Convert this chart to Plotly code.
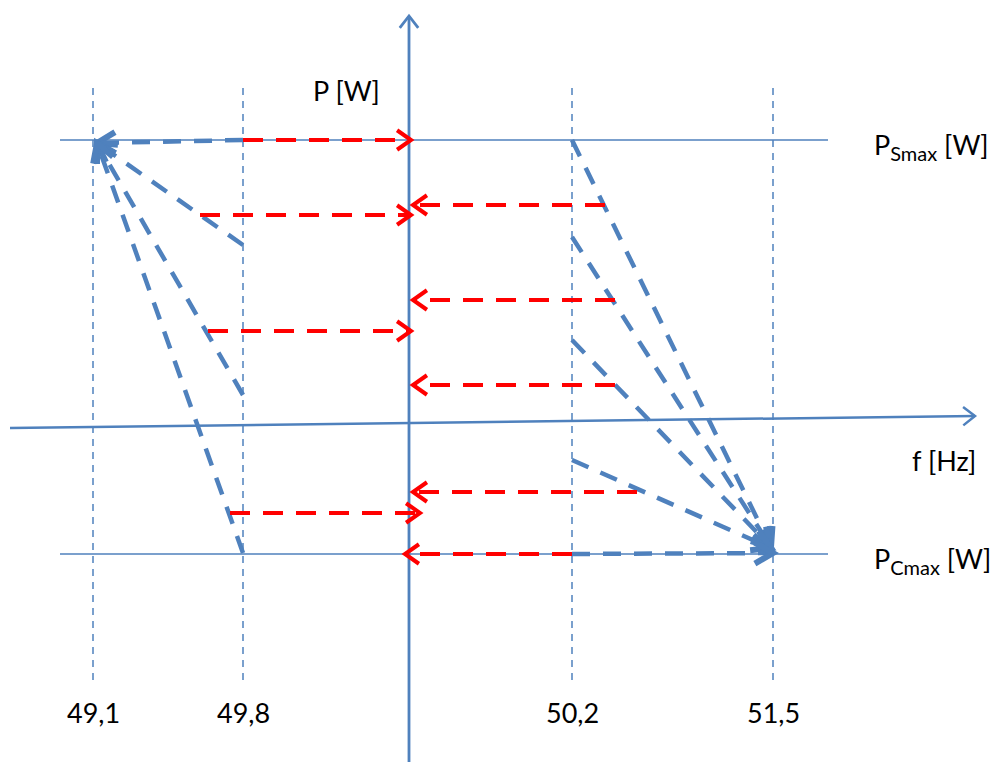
import numpy as np
import plotly.graph_objects as go

W, H = 1000, 762
OFF = 8  # page body margin compensation
BLUE = "#4F81BD"
RED = "#FF0000"
FONT = "Lato"

# ---- data (diagram units, y measured downward like the picture) ----
freq_labels = ["49,1", "49,8", "50,2", "51,5"]
freq_x = [93, 243, 572, 773]
p_axis_x = 409
p_smax_y = 140
p_cmax_y = 554

# left side: blue droop lines from 49,8 up to the P_Smax corner at 49,1
left_start_y = [140, 245, 395, 553]
left_tip = (97, 143)
# left red arrows (pointing right to the P axis)
left_red_y = [140, 215, 331, 513]
left_red_x0 = [243, 200, 208, 230]
left_red_x1 = [411, 411, 411, 420]

# right side: blue droop lines from 50,2 down to the P_Cmax corner at 51,5
right_start_y = [140, 237, 340, 460, 554]
right_tip = [(771, 547), (771, 547), (771, 547), (771, 548), (773, 553)]
# right red arrows (pointing left to the P axis)
right_red_y = [205, 300, 385, 492, 554]
right_red_x0 = [605, 615, 615, 637, 572]
right_red_x1 = [413, 413, 413, 413, 405]

fig = go.Figure()


def add_line(xs, ys, color, width, dash="solid"):
    fig.add_trace(go.Scatter(x=xs, y=ys, mode="lines",
                             line=dict(color=color, width=width, dash=dash),
                             hoverinfo="skip", showlegend=False))


def add_head(tail, tip, color, width, length, angle_deg):
    d = np.array(tip, float) - np.array(tail, float)
    d /= np.linalg.norm(d)
    pts = []
    for s in (1, -1):
        a = np.radians(angle_deg) * s
        r = np.array([d[0] * np.cos(a) - d[1] * np.sin(a),
                      d[0] * np.sin(a) + d[1] * np.cos(a)])
        pts.append(np.array(tip, float) - length * r)
    xs = [pts[0][0], tip[0], pts[1][0]]
    ys = [pts[0][1], tip[1], pts[1][1]]
    fig.add_trace(go.Scatter(x=xs, y=ys, mode="lines",
                             line=dict(color=color, width=width),
                             hoverinfo="skip", showlegend=False))


# thin vertical dashed frequency lines
for fx in freq_x:
    add_line([fx, fx], [88, 680], BLUE, 1.5, "7px,6px")

# P_Smax and P_Cmax levels
add_line([60, 828], [p_smax_y, p_smax_y], BLUE, 1.6)
add_line([60, 828], [p_cmax_y, p_cmax_y], BLUE, 1.6)

# axes
add_line([p_axis_x, p_axis_x], [H + 10, 16], BLUE, 2.8)
add_head((p_axis_x, H), (p_axis_x, 16), BLUE, 2.8, 15, 38)
add_line([10, 975], [428, 416], BLUE, 2.5)
add_head((10, 428), (975, 416), BLUE, 2.5, 15, 38)

# blue droop lines, left
for y0 in left_start_y:
    x0 = freq_x[1]
    add_line([x0, left_tip[0]], [y0, left_tip[1]], BLUE, 4.5, "18px,13px")
    add_head((x0, y0), left_tip, BLUE, 6, 21, 30)

# blue droop lines, right
for y0, tip in zip(right_start_y, right_tip):
    add_line([freq_x[2], tip[0]], [y0, tip[1]], BLUE, 4.5, "18px,13px")
    add_head((freq_x[2], y0), tip, BLUE, 6, 21, 30)

# red arrows
for y, x0, x1 in zip(left_red_y, left_red_x0, left_red_x1):
    add_line([x0, x1 - 2], [y, y], RED, 4, "20px,13px")
    add_head((x0, y), (x1, y), RED, 4, 17, 35)
for y, x0, x1 in zip(right_red_y, right_red_x0, right_red_x1):
    add_line([x0, x1 + 2], [y, y], RED, 4, "20px,13px")
    add_head((x0, y), (x1, y), RED, 4, 17, 35)

# text
TF = dict(family=FONT, size=27, color="black")
ann = []
for lab, fx in zip(freq_labels, freq_x):
    ann.append(dict(x=fx, y=712, text=lab, showarrow=False,
                    xanchor="center", yanchor="middle", font=TF))
ann.append(dict(x=346, y=90, text="P [W]", showarrow=False,
                xanchor="center", yanchor="middle", font=TF))
ann.append(dict(x=872, y=146,
                text="P<sub><span style='font-size:20px'>Smax</span></sub> [W]",
                showarrow=False, xanchor="left", yanchor="middle", font=TF))
ann.append(dict(x=872, y=560,
                text="P<sub><span style='font-size:20px'>Cmax</span></sub> [W]",
                showarrow=False, xanchor="left", yanchor="middle", font=TF))
ann.append(dict(x=910, y=460, text="f [Hz]", showarrow=False,
                xanchor="left", yanchor="middle", font=TF))

fig.update_layout(
    width=W, height=H,
    margin=dict(l=0, r=0, t=0, b=0),
    paper_bgcolor="white", plot_bgcolor="white",
    xaxis=dict(range=[OFF, W + OFF], visible=False, fixedrange=True),
    yaxis=dict(range=[H + OFF, OFF], visible=False, fixedrange=True),
    annotations=ann,
)

fig.write_html("out.html")
